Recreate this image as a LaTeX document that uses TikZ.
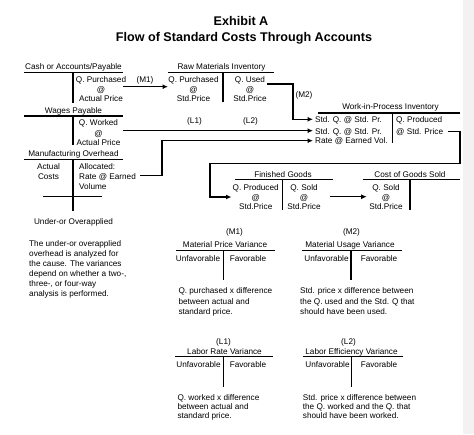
\documentclass[tikz,border=0pt]{standalone}
\usepackage{fontspec}
\setmainfont{Liberation Sans}
\usetikzlibrary{arrows.meta}
\newcommand\fs{\fontsize{8.2}{10}\selectfont}
\begin{document}
\begin{tikzpicture}[x=1pt,y=-1pt,
  txt/.style={font=\fs, inner sep=0pt, anchor=base},
  lt/.style={font=\fs, inner sep=0pt, anchor=base west},
  lab/.style={font=\fs, inner sep=0pt},
  tl/.style={line width=1.4pt},
  con/.style={line width=1.1pt},
  arr/.style={con, -{Latex[length=5.5pt,width=5pt]}},
  ttl/.style={font=\fontsize{12.6}{14}\selectfont\bfseries, inner sep=0pt, anchor=base}]
\useasboundingbox (0,0) rectangle (474,434);
\fill[black!5] (463,0) rectangle (474,434);
% Title
\node[ttl] (t1) at (241,25.5) {Exhibit A};
\node[ttl] (t2) at (244,41.5) {Flow of Standard Costs Through Accounts};

% Cash or Accounts/Payable
\node[txt] (cashT) at (73.5,69) {Cash or Accounts/Payable};
\draw[tl] (24,72.3) -- (123,72.3) (73,72.3) -- (73,103);
\node[txt] (cash1) at (101,82) {Q. Purchased};
\node[txt] (cash2) at (101,92) {@};
\node[txt] (cash3) at (101,101) {Actual Price};

% Raw Materials Inventory
\node[txt] (rawT) at (221.5,69) {Raw Materials Inventory};
\draw[tl] (168,72.3) -- (274,72.3) (223,72.3) -- (223,102);
\node[txt] (raw1) at (193.5,82) {Q. Purchased};
\node[txt] (raw2) at (193.5,92) {@};
\node[txt] (raw3) at (193.5,101) {Std.Price};
\node[txt] (raw4) at (250,82) {Q. Used};
\node[txt] (raw5) at (250,92) {@};
\node[txt] (raw6) at (250,101) {Std.Price};

% Wages Payable
\node[txt] (wagT) at (73.5,113) {Wages Payable};
\draw[tl] (24,116) -- (123,116) (73,116) -- (73,145);
\node[txt] (wag1) at (98.5,125.7) {Q. Worked};
\node[txt] (wag2) at (98.5,136) {@};
\node[txt] (wag3) at (98.5,145.3) {Actual Price};

% Manufacturing Overhead
\node[txt] (moT) at (73.5,156.5) {Manufacturing Overhead};
\draw[tl] (24,159.3) -- (123,159.3) (73,159.3) -- (73,211) (43,196.7) -- (102,196.7);
\node[txt] (mo1) at (48.5,169.5) {Actual};
\node[txt] (mo2) at (48.5,179.5) {Costs};
\node[lt] (mo3) at (79,169.5) {Allocated:};
\node[lt] (mo4) at (79,179.5) {Rate @ Earned};
\node[lt] (mo5) at (79,189) {Volume};
\node[txt] (moU) at (73.5,224) {Under-or Overapplied};

% Work-in-Process Inventory
\node[txt] (wipT) at (390.5,109.7) {Work-in-Process Inventory};
\draw[tl] (318,113) -- (460,113) (392.7,113) -- (392.7,143);
\node[lt] (wip1) at (315,122) {Std. Q. @ Std. Pr.};
\node[lt] (wip2) at (315,134.3) {Std. Q. @ Std. Pr.};
\node[lt] (wip3) at (315,143.7) {Rate @ Earned Vol.};
\node[lt] (wip4) at (396,122) {Q. Produced};
\node[lt] (wip5) at (396,134.3) {@ Std. Price};

% Finished Goods
\node[txt] (fgT) at (283,177) {Finished Goods};
\draw[tl] (235,179.7) -- (333,179.7) (282.7,179.7) -- (282.7,210);
\node[txt] (fg1) at (255.7,190.5) {Q. Produced};
\node[txt] (fg2) at (255.7,200) {@};
\node[txt] (fg3) at (255.7,209.7) {Std.Price};
\node[txt] (fg4) at (304,190.5) {Q. Sold};
\node[txt] (fg5) at (304,200) {@};
\node[txt] (fg6) at (304,209.7) {Std.Price};

% Cost of Goods Sold
\node[txt] (cgT) at (410,177) {Cost of Goods Sold};
\draw[tl] (362.7,179.7) -- (460,179.7) (410,179.7) -- (410,210);
\node[txt] (cg1) at (386,190.5) {Q. Sold};
\node[txt] (cg2) at (386,200) {@};
\node[txt] (cg3) at (386,209.7) {Std.Price};

% Connectors
\coordinate (m1a) at (123,86.7);
\coordinate (m1b) at (168,86.7);
\draw[arr] (m1a) -- (m1b);
\node[lab] (m1l) at (145,80.7) {(M1)};

\coordinate (m2a) at (267,84);
\coordinate (m2b) at (313,119.3);
\draw[arr] (m2a) -| (293,119.3) -- (m2b);
\node[lab] (m2l) at (304,95.7) {(M2)};

\coordinate (la) at (123,130.7);
\coordinate (lb) at (313,130.7);
\draw[arr] (la) -- (lb);
\node[lab] (l1l) at (194.5,121.7) {(L1)};
\node[lab] (l2l) at (250.5,121.7) {(L2)};

\coordinate (oa) at (140,175.7);
\coordinate (ob) at (313,140.7);
\draw[arr] (oa) -- (162,175.7) |- (ob);

\coordinate (wa) at (448,131.3);
\coordinate (wb) at (231.5,197);
\draw[arr] (wa) -- (460,131.3) -- (460,163.3) -- (210,163.3) -- (210,197) -- (wb);

\coordinate (fa) at (330,196.7);
\coordinate (fb) at (366.7,196.7);
\draw[arr] (fa) -- (fb);

% Paragraph
\foreach \s [count=\i] in {The under-or overapplied, overhead is analyzed for, the cause. The variances, {depend on whether a two-,}, {three-, or four-way}, analysis is performed.}
  \node[lt] (par\i) at (29,{236.2+10.1*\i}) {\s};

% M1 Material Price Variance
\node[lab] (v1a) at (234.5,232.3) {(M1)};
\node[txt] (v1T) at (225,247) {Material Price Variance};
\draw[tl] (176,250.7) -- (275,250.7) (223.3,250.7) -- (223.3,280);
\node[txt] (v1u) at (198,261.3) {Unfavorable};
\node[txt] (v1f) at (248,261.3) {Favorable};
\node[lt] (v1x) at (178.3,293.7) {Q. purchased x difference};
\node[lt] (v1y) at (178.3,304) {between actual and};
\node[lt] (v1z) at (178.3,314) {standard price.};

% M2 Material Usage Variance
\node[lab] (v2a) at (351.5,232.3) {(M2)};
\node[txt] (v2T) at (350,247) {Material Usage Variance};
\draw[tl] (301.7,250.7) -- (401.7,250.7) (351,250.7) -- (351,280);
\node[txt] (v2u) at (326.5,261.3) {Unfavorable};
\node[txt] (v2f) at (379,261.3) {Favorable};
\node[lt] (v2x) at (300,293.7) {Std. price x difference between};
\node[lt] (v2y) at (300,304) {the Q. used and the Std. Q that};
\node[lt] (v2z) at (300,314) {should have been used.};

% L1 Labor Rate Variance
\node[lab] (v3a) at (223.5,342.3) {(L1)};
\node[txt] (v3T) at (224.5,354) {Labor Rate Variance};
\draw[tl] (175,356.7) -- (273,356.7) (223.3,356.7) -- (223.3,387);
\node[txt] (v3u) at (198.5,367.3) {Unfavorable};
\node[txt] (v3f) at (248,367.3) {Favorable};
\node[lt] (v3x) at (177.3,400.7) {Q. worked x difference};
\node[lt] (v3y) at (177.3,409.7) {between actual and};
\node[lt] (v3z) at (177.3,418.7) {standard price.};

% L2 Labor Efficiency Variance
\node[lab] (v4a) at (348.5,342.3) {(L2)};
\node[txt] (v4T) at (351.5,354) {Labor Efficiency Variance};
\draw[tl] (302.7,356.7) -- (402.7,356.7) (351.7,356.7) -- (351.7,387);
\node[txt] (v4u) at (327.5,367.3) {Unfavorable};
\node[txt] (v4f) at (379,367.3) {Favorable};
\node[lt] (v4x) at (302.7,400.7) {Std. price x difference between};
\node[lt] (v4y) at (302.7,409.7) {the Q. worked and the Q. that};
\node[lt] (v4z) at (302.7,418.7) {should have been worked.};
\end{tikzpicture}
\end{document}
